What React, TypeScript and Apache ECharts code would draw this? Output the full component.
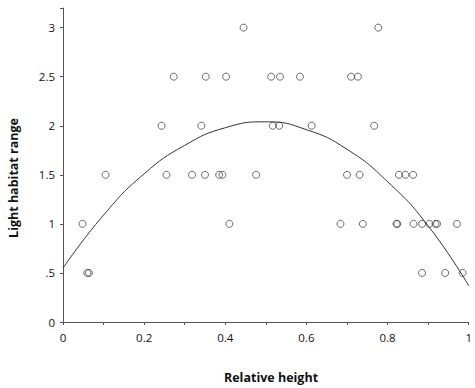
import React, { useEffect, useRef } from "react";
import * as echarts from "echarts";

// Observed points (relative height, light habitat range)
const pointX: number[] = [
  0.445, 0.777,
  0.273, 0.352, 0.402, 0.513, 0.535, 0.584, 0.71, 0.727,
  0.243, 0.341, 0.517, 0.533, 0.613, 0.767,
  0.105, 0.255, 0.318, 0.35, 0.385, 0.393, 0.476, 0.7, 0.731, 0.828, 0.844, 0.863,
  0.048, 0.41, 0.684, 0.739, 0.822, 0.824, 0.864, 0.885, 0.903, 0.918, 0.922, 0.971,
  0.06, 0.064, 0.885, 0.942, 0.985,
];
const pointY: number[] = [
  3, 3,
  2.5, 2.5, 2.5, 2.5, 2.5, 2.5, 2.5, 2.5,
  2, 2, 2, 2, 2, 2,
  1.5, 1.5, 1.5, 1.5, 1.5, 1.5, 1.5, 1.5, 1.5, 1.5, 1.5, 1.5,
  1, 1, 1, 1, 1, 1, 1, 1, 1, 1, 1, 1,
  0.5, 0.5, 0.5, 0.5, 0.5,
];

// Fitted curve
const curveX: number[] = [0, 0.1, 0.2, 0.3, 0.4, 0.5, 0.6, 0.7, 0.8, 0.9, 1.0];
const curveY: number[] = [0.55, 1.09, 1.51, 1.8, 1.98, 2.04, 1.96, 1.76, 1.43, 0.98, 0.37];

const xTickLabels: Record<string, string> = {
  "0": "0", "0.2": "0.2", "0.4": "0.4", "0.6": "0.6", "0.8": "0.8", "1": "1",
};
const yTickLabels: Record<string, string> = {
  "0": "0", "0.5": ".5", "1": "1", "1.5": "1.5", "2": "2", "2.5": "2.5", "3": "3",
};

const FONT = "'Open Sans', 'Noto Sans', sans-serif";

export default function App() {
  const ref = useRef<HTMLDivElement>(null);
  useEffect(() => {
    if (!ref.current) return;
    const chart = echarts.init(ref.current, undefined, { renderer: "svg" });
    const scatterData = pointX.map((x, i) => [x, pointY[i]]);
    const lineData = curveX.map((x, i) => [x, curveY[i]]);
    chart.setOption({
      animation: false,
      backgroundColor: "#fff",
      grid: { left: 63, right: 2, top: 8, bottom: 66 },
      xAxis: {
        type: "value",
        min: 0,
        max: 1,
        interval: 0.1,
        splitLine: { show: false },
        axisLine: { lineStyle: { color: "#555", width: 1 } },
        axisTick: { length: 3, lineStyle: { color: "#555" } },
        axisLabel: {
          margin: 9,
          color: "#111",
          fontSize: 11.5,
          fontFamily: FONT,
          formatter: (v: number) => {
            const k = String(Math.round(v * 10) / 10);
            return xTickLabels[k] ?? "";
          },
        },
      },
      yAxis: {
        type: "value",
        min: 0,
        max: 3.2,
        interval: 0.5,
        splitLine: { show: false },
        axisLine: { show: true, lineStyle: { color: "#555", width: 1 } },
        axisTick: { show: true, length: 3, lineStyle: { color: "#555" } },
        axisLabel: {
          margin: 8,
          color: "#111",
          fontSize: 11.5,
          fontFamily: FONT,
          formatter: (v: number) => {
            const k = String(Math.round(v * 10) / 10);
            return yTickLabels[k] ?? "";
          },
        },
      },
      graphic: [
        {
          type: "text",
          x: 13,
          y: 178,
          rotation: Math.PI / 2,
          style: {
            text: "Light habitat range",
            fontFamily: FONT,
            fontWeight: "bold",
            fontSize: 12.5,
            fill: "#111",
            align: "center",
            verticalAlign: "middle",
          },
        },
        {
          type: "text",
          x: 271,
          y: 377,
          style: {
            text: "Relative height",
            fontFamily: FONT,
            fontWeight: "bold",
            fontSize: 12.5,
            fill: "#111",
            align: "center",
            verticalAlign: "middle",
          },
        },
      ],
      series: [
        {
          type: "line",
          data: lineData,
          smooth: true,
          showSymbol: false,
          symbol: "none",
          lineStyle: { color: "#333", width: 1 },
          z: 1,
        },
        {
          type: "scatter",
          data: scatterData,
          symbol: "circle",
          symbolSize: 7,
          itemStyle: { color: "rgba(0,0,0,0)", borderColor: "#333", borderWidth: 0.9 },
          z: 2,
        },
      ],
    });
    return () => chart.dispose();
  }, []);
  return (
    <div
      ref={ref}
      style={{ position: "absolute", left: 0, top: 0, width: 475, height: 388 }}
    />
  );
}
